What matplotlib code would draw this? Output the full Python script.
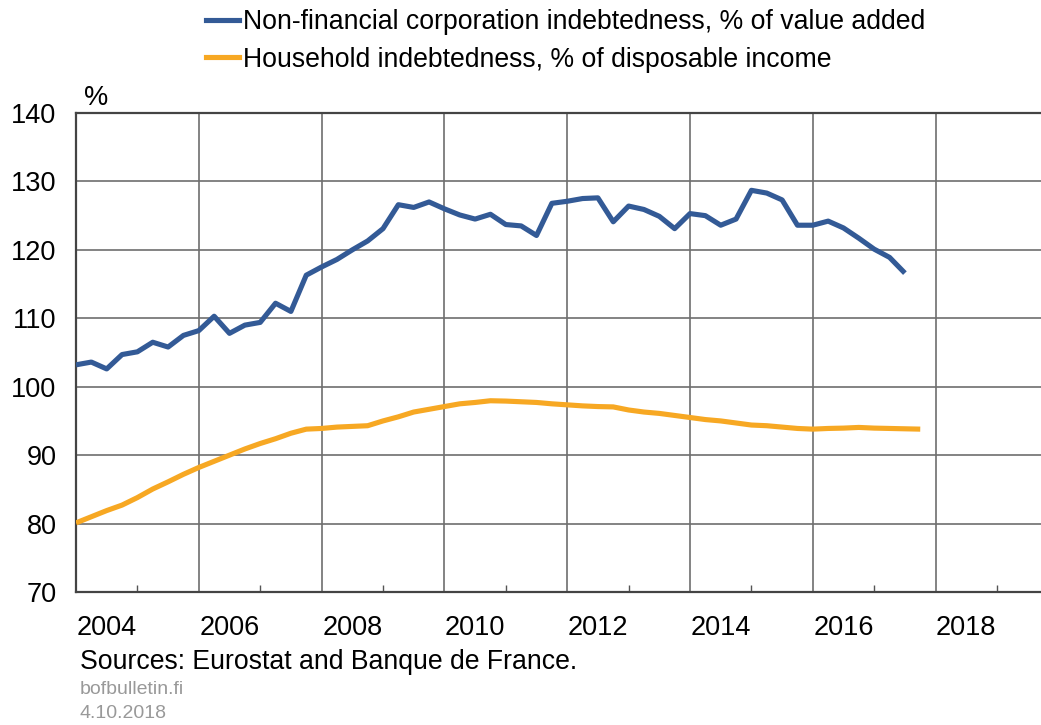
import matplotlib
matplotlib.use("Agg")
import matplotlib.pyplot as plt
from matplotlib.lines import Line2D
import numpy as np

plt.rcParams['font.family'] = ['Liberation Sans', 'DejaVu Sans']

# Quarterly observations starting 2004Q1
start_year = 2004.0
step = 0.25

nfc_debt = [103.2, 103.6, 102.6, 104.7, 105.1, 106.5, 105.8, 107.5,
            108.2, 110.3, 107.8, 109.0, 109.4, 112.2, 111.0, 116.3,
            117.5, 118.6, 120.0, 121.3, 123.1, 126.6, 126.2, 127.0,
            126.0, 125.1, 124.5, 125.2, 123.7, 123.5, 122.1, 126.8,
            127.1, 127.5, 127.6, 124.1, 126.4, 125.9, 124.9, 123.1,
            125.3, 125.0, 123.6, 124.5, 128.7, 128.3, 127.3, 123.6,
            123.6, 124.2, 123.2, 121.7, 120.1, 118.9, 116.6]

hh_debt = [80.1, 81.0, 81.9, 82.7, 83.8, 85.05, 86.1, 87.2,
           88.2, 89.1, 90.0, 90.9, 91.7, 92.4, 93.2, 93.8,
           93.9, 94.1, 94.2, 94.3, 95.0, 95.6, 96.3, 96.7,
           97.1, 97.5, 97.7, 97.95, 97.9, 97.8, 97.7, 97.5,
           97.35, 97.2, 97.1, 97.05, 96.6, 96.3, 96.1, 95.8,
           95.5, 95.2, 95.0, 94.7, 94.4, 94.3, 94.1, 93.9,
           93.8, 93.9, 93.95, 94.05, 93.95, 93.9, 93.85, 93.8]

labels = ["Non-financial corporation indebtedness, % of value added",
          "Household indebtedness, % of disposable income"]
year_labels = [2004, 2006, 2008, 2010, 2012, 2014, 2016, 2018]
y_ticks = [70, 80, 90, 100, 110, 120, 130, 140]

blue = "#335a96"
orange = "#f7a823"

x_nfc = start_year + step * np.arange(len(nfc_debt))
x_hh = start_year + step * np.arange(len(hh_debt))

fig = plt.figure(figsize=(10.41, 7.25), dpi=100)
ax = fig.add_axes([76 / 1041, 1 - 592 / 725, 1 - 76 / 1041, (592 - 113) / 725])

ax.plot(x_nfc, nfc_debt, color=blue, lw=3.7, solid_joinstyle='round',
        solid_capstyle='butt', label=labels[0], zorder=3)
ax.plot(x_hh, hh_debt, color=orange, lw=3.7, solid_joinstyle='round',
        solid_capstyle='butt', label=labels[1], zorder=3)

ax.set_ylim(70, 140)
ax.set_xlim(2004, 2004 + 965 / 61.4)
ax.set_yticks(y_ticks)
ax.set_yticklabels([str(v) for v in y_ticks], fontsize=19.5)
ax.tick_params(axis='y', length=0, pad=14)

# gridlines at even years, minor tick marks at odd years
ax.set_xticks([y for y in range(2006, 2020, 2)])
ax.set_xticklabels([])
ax.tick_params(axis='x', which='major', length=0)
ax.set_xticks([y for y in range(2005, 2020, 2)], minor=True)
ax.tick_params(axis='x', which='minor', direction='in', length=5, width=1, color='#555555')

ax.grid(True, which='major', color='#6e6e6e', lw=1.2)
ax.set_axisbelow(True)

for s in ['left', 'bottom', 'top']:
    ax.spines[s].set_color('#444444')
ax.spines['left'].set_linewidth(1.6)
ax.spines['bottom'].set_linewidth(1.6)
ax.spines['top'].set_linewidth(1.6)
ax.spines['right'].set_visible(False)

tr = ax.get_xaxis_transform()
for yl in year_labels:
    ax.text(yl + 0.5, -0.075, str(yl), transform=tr, ha='center', va='center', fontsize=19.5)

ax.text(0.008, 1.005, "%", transform=ax.transAxes, ha='left', va='bottom', fontsize=19.5)

handles = [Line2D([], [], color=blue, lw=3.7), Line2D([], [], color=orange, lw=3.7)]
fig.legend(handles, labels, loc='upper left', bbox_to_anchor=(206 / 1041, 1 - 9 / 725),
           frameon=False, fontsize=19.2, handlelength=1.25, handletextpad=0.12,
           labelspacing=0.44, borderpad=0, borderaxespad=0)

fig.text(80 / 1041, 1 - 662 / 725, "Sources: Eurostat and Banque de France.",
         fontsize=19.2, ha='left', va='center')
fig.text(80 / 1041, 1 - 690 / 725, "bofbulletin.fi", fontsize=14, color='#999999',
         ha='left', va='center')
fig.text(80 / 1041, 1 - 713 / 725, "4.10.2018", fontsize=14, color='#999999',
         ha='left', va='center')

fig.savefig("out.png", dpi=100)
